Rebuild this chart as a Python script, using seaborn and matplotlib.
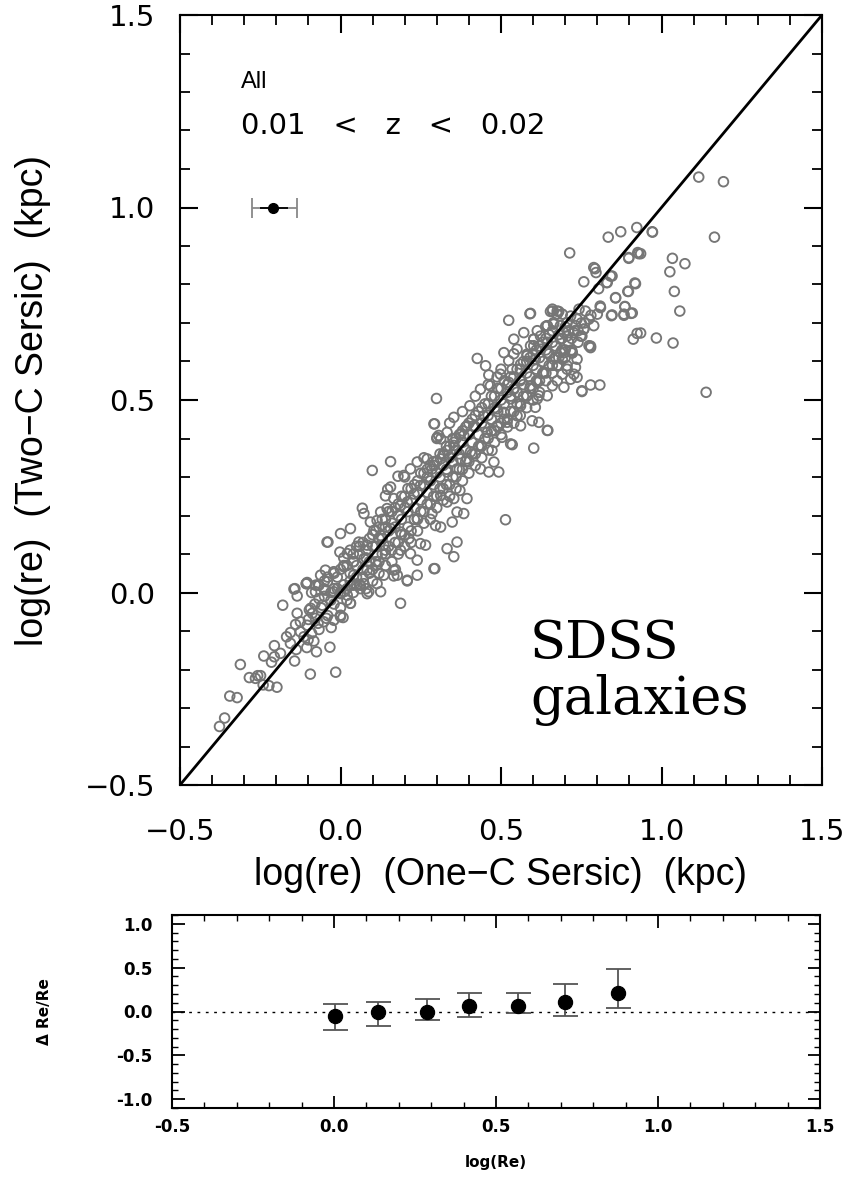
import numpy as np
import pandas as pd
import matplotlib
matplotlib.use("Agg")
import matplotlib.pyplot as plt
import seaborn as sns
from matplotlib.ticker import MultipleLocator

# ---------------- data: top panel (log re one-component vs two-component) ----------------
low_end_pts = [(-0.377, -0.348), (-0.361, -0.326), (-0.345, -0.269), (-0.322, -0.273), (-0.312, -0.187),
               (-0.284, -0.221), (-0.258, -0.216), (-0.249, -0.216), (-0.241, -0.240), (-0.223, -0.242),
               (-0.198, -0.246), (-0.239, -0.165), (-0.206, -0.138), (-0.206, -0.167), (-0.215, -0.181),
               (-0.143, -0.178), (-0.180, -0.033), (-0.142, 0.010), (-0.135, -0.009), (-0.107, 0.023),
               (-0.097, -0.045), (-0.094, -0.212), (-0.015, -0.207), (-0.033, -0.142), (-0.075, -0.154),
               (-0.105, -0.143), (-0.138, -0.148), (-0.168, -0.115), (-0.156, -0.104), (-0.140, -0.083),
               (-0.125, -0.102), (-0.114, -0.115), (-0.101, -0.123), (-0.083, -0.126), (-0.090, -0.106),
               (-0.125, -0.076), (-0.104, -0.085), (-0.078, -0.067), (-0.067, -0.096), (-0.052, -0.076),
               (-0.029, -0.091), (-0.044, -0.067), (-0.021, -0.072), (0.000, -0.063), (0.008, -0.065),
               (0.031, -0.028), (-0.067, -0.016), (-0.078, 0.002), (-0.067, 0.019), (-0.047, 0.006),
               (-0.041, 0.028), (-0.021, 0.010), (0.000, -0.003), (0.021, -0.007), (0.041, 0.019),
               (0.062, 0.010), (0.073, 0.023), (0.083, -0.003), (-0.057, -0.033), (-0.088, -0.054),
               (-0.156, -0.132), (-0.187, -0.158), (-0.265, -0.223), (-0.145, 0.009), (-0.106, 0.023),
               (-0.135, -0.054), (-0.093, -0.041), (0.000, -0.059), (0.187, -0.028), (-0.039, 0.131)]

mid_pts = [(0.293, 0.438), (0.301, 0.403), (0.156, 0.340), (0.099, 0.317), (0.179, 0.302), (0.156, 0.274),
           (0.147, 0.268), (0.140, 0.251), (0.068, 0.219), (0.073, 0.205), (0.031, 0.166), (0.000, 0.153),
           (-0.042, 0.131), (-0.002, 0.105), (0.021, 0.101), (-0.047, 0.058), (-0.104, 0.026), (-0.078, 0.019),
           (-0.052, 0.010), (0.010, 0.002), (0.062, 0.019), (0.088, 0.002), (0.125, 0.002), (0.166, 0.058),
           (0.177, 0.045), (0.208, 0.030), (0.187, 0.110), (0.218, 0.101), (0.239, 0.084), (0.265, 0.123),
           (0.291, 0.062), (0.213, 0.140), (0.187, 0.157), (0.296, 0.174), (0.312, 0.170), (0.348, 0.183),
           (0.363, 0.209), (0.384, 0.205), (0.372, 0.265), (0.394, 0.244), (0.285, 0.205), (0.239, 0.192),
           (0.114, 0.187), (0.104, 0.161), (0.125, 0.148), (0.057, 0.131), (0.083, 0.123), (0.140, 0.110),
           (0.041, 0.080), (0.010, 0.067), (-0.021, 0.054), (-0.062, 0.045), (0.114, 0.071), (0.135, 0.045),
           (0.083, 0.058), (0.208, 0.235), (0.229, 0.256), (0.249, 0.278), (0.270, 0.300), (0.285, 0.321),
           (0.312, 0.347), (0.332, 0.369), (0.353, 0.390), (0.374, 0.412), (0.394, 0.433), (0.197, 0.304),
           (0.218, 0.321), (0.239, 0.339), (0.270, 0.347), (0.312, 0.399), (0.332, 0.416), (0.166, 0.244),
           (0.187, 0.226), (0.145, 0.218), (0.125, 0.209), (0.093, 0.183), (0.156, 0.166), (0.135, 0.123),
           (0.114, 0.097), (0.073, 0.088), (0.041, 0.045), (0.031, 0.019), (-0.021, 0.002), (0.363, 0.131),
           (0.332, 0.114), (0.353, 0.093), (0.239, 0.045), (0.249, 0.127), (0.332, 0.235), (0.312, 0.252),
           (0.353, 0.244), (0.294, 0.062), (0.208, 0.032), (0.171, 0.060), (0.166, 0.043), (0.114, 0.023),
           (0.031, -0.028)]

upper_mid_pts = [(0.592, 0.725), (0.524, 0.707), (0.660, 0.731), (0.675, 0.723), (0.644, 0.693), (0.664, 0.697),
                 (0.685, 0.693), (0.706, 0.701), (0.737, 0.710), (0.758, 0.684), (0.774, 0.641), (0.540, 0.658),
                 (0.602, 0.658), (0.426, 0.608), (0.452, 0.589), (0.462, 0.565), (0.488, 0.560), (0.524, 0.602),
                 (0.535, 0.580), (0.561, 0.593), (0.581, 0.615), (0.592, 0.641), (0.607, 0.606), (0.664, 0.606),
                 (0.696, 0.623), (0.722, 0.623), (0.675, 0.589), (0.706, 0.589), (0.732, 0.585), (0.691, 0.567),
                 (0.717, 0.554), (0.737, 0.559), (0.675, 0.550), (0.660, 0.537), (0.696, 0.533), (0.752, 0.524),
                 (0.644, 0.511), (0.613, 0.503), (0.607, 0.481), (0.550, 0.459), (0.561, 0.433), (0.597, 0.446),
                 (0.618, 0.442), (0.644, 0.421), (0.602, 0.375), (0.530, 0.386), (0.503, 0.403), (0.472, 0.369),
                 (0.478, 0.339), (0.493, 0.313), (0.462, 0.313), (0.299, 0.504), (0.291, 0.438), (0.306, 0.408),
                 (0.353, 0.455), (0.403, 0.485), (0.436, 0.528), (0.467, 0.537), (0.498, 0.567), (0.524, 0.546),
                 (0.561, 0.554), (0.592, 0.537), (0.618, 0.511), (0.561, 0.485), (0.530, 0.503), (0.488, 0.477),
                 (0.446, 0.459), (0.415, 0.433), (0.384, 0.408), (0.353, 0.382), (0.322, 0.356), (0.291, 0.330),
                 (0.374, 0.347), (0.405, 0.365), (0.436, 0.382), (0.457, 0.416), (0.488, 0.433), (0.519, 0.442),
                 (0.509, 0.468), (0.540, 0.528), (0.581, 0.511), (0.613, 0.546), (0.634, 0.572), (0.623, 0.632),
                 (0.644, 0.650), (0.685, 0.658), (0.706, 0.666), (0.727, 0.675), (0.748, 0.666), (0.509, 0.623),
                 (0.550, 0.632), (0.571, 0.675), (0.613, 0.680), (0.394, 0.347), (0.436, 0.321), (0.363, 0.321),
                 (0.332, 0.313), (0.779, 0.539), (0.808, 0.539), (0.752, 0.522), (0.646, 0.421), (0.535, 0.384),
                 (0.514, 0.189)]

upper_pts = [(0.660, 0.736), (0.675, 0.731), (0.691, 0.723), (0.644, 0.693), (0.664, 0.701), (0.717, 0.718),
             (0.743, 0.736), (0.763, 0.731), (0.774, 0.710), (0.789, 0.693), (0.758, 0.684), (0.732, 0.693),
             (0.752, 0.666), (0.696, 0.675), (0.623, 0.666), (0.602, 0.658), (0.602, 0.641), (0.581, 0.619),
             (0.644, 0.623), (0.685, 0.623), (0.722, 0.622), (0.691, 0.606), (0.675, 0.589), (0.706, 0.580),
             (0.727, 0.567), (0.810, 0.740), (0.800, 0.723), (0.639, 0.691), (0.654, 0.730), (0.680, 0.730),
             (0.779, 0.636), (0.717, 0.627), (0.737, 0.606), (0.590, 0.724)]

high_pts = [(0.834, 0.923), (0.873, 0.937), (0.923, 0.948), (0.971, 0.937), (0.714, 0.882), (0.898, 0.870),
            (0.926, 0.883), (0.789, 0.844), (0.796, 0.831), (0.758, 0.807), (0.841, 0.822), (0.829, 0.805),
            (0.804, 0.789), (0.917, 0.804), (0.895, 0.782), (0.857, 0.765), (0.809, 0.744), (0.886, 0.743),
            (0.909, 0.726), (0.883, 0.720), (0.844, 0.719), (0.924, 0.673), (0.912, 0.658), (0.779, 0.640),
            (0.846, 0.721), (0.883, 0.723), (0.905, 0.725), (0.886, 0.742), (0.857, 0.766), (0.897, 0.782),
            (0.919, 0.802), (0.831, 0.805), (0.846, 0.822), (0.793, 0.841), (0.898, 0.868), (0.929, 0.880)]

outlier_pts = [(1.116, 1.079), (1.193, 1.067), (0.972, 0.936), (1.165, 0.923), (1.034, 0.868), (1.073, 0.854),
               (1.026, 0.833), (1.040, 0.782), (1.057, 0.731), (0.984, 0.661), (1.036, 0.648), (0.935, 0.674),
               (1.139, 0.520), (0.935, 0.880)]

core_pts = [(-0.06, -0.04), (-0.05, -0.01), (-0.07, 0.02), (-0.04, -0.06), (-0.03, 0.00), (-0.04, 0.04),
            (-0.02, -0.03), (-0.01, 0.01), (-0.02, 0.05), (0.00, -0.04), (0.01, 0.02), (0.00, 0.06),
            (0.01, 0.09), (0.02, -0.02), (0.03, 0.03), (0.02, 0.07), (0.03, 0.11), (0.04, 0.00), (0.05, 0.04),
            (0.04, 0.08), (0.05, 0.12), (0.06, 0.02), (0.07, 0.06), (0.06, 0.10), (0.07, 0.13), (0.08, 0.01),
            (0.09, 0.05), (0.08, 0.09), (0.09, 0.14), (0.10, 0.03), (0.11, 0.08), (0.10, 0.12), (0.11, 0.16),
            (0.12, 0.05), (0.13, 0.10), (0.12, 0.14), (0.13, 0.19), (0.14, 0.07), (0.15, 0.12), (0.14, 0.17),
            (0.15, 0.21), (0.16, 0.08), (0.17, 0.13), (0.16, 0.18), (0.17, 0.22), (0.18, 0.10), (0.19, 0.15),
            (0.18, 0.20), (0.19, 0.25), (0.20, 0.12), (0.21, 0.17), (0.20, 0.22), (0.21, 0.27), (0.20, 0.30),
            (0.22, 0.13), (0.23, 0.19), (0.22, 0.24), (0.23, 0.28), (0.24, 0.16), (0.25, 0.21), (0.24, 0.26),
            (0.25, 0.31), (0.26, 0.18), (0.27, 0.23), (0.26, 0.28), (0.27, 0.32), (0.26, 0.35), (0.28, 0.19),
            (0.29, 0.25), (0.28, 0.29), (0.29, 0.34), (0.30, 0.22), (0.31, 0.27), (0.30, 0.31), (0.31, 0.36),
            (0.30, 0.40), (0.32, 0.24), (0.33, 0.28), (0.32, 0.33), (0.33, 0.38), (0.34, 0.25), (0.35, 0.30),
            (0.34, 0.35), (0.35, 0.40), (0.34, 0.44), (0.36, 0.27), (0.37, 0.32), (0.36, 0.37), (0.37, 0.41),
            (0.38, 0.29), (0.39, 0.34), (0.38, 0.39), (0.39, 0.43), (0.38, 0.47), (0.40, 0.31), (0.41, 0.36),
            (0.40, 0.41), (0.41, 0.45), (0.42, 0.33), (0.43, 0.38), (0.42, 0.43), (0.43, 0.47), (0.42, 0.51),
            (0.44, 0.35), (0.45, 0.40), (0.44, 0.44), (0.45, 0.49), (0.46, 0.37), (0.47, 0.42), (0.46, 0.46),
            (0.47, 0.51), (0.46, 0.54), (0.48, 0.39), (0.49, 0.43), (0.48, 0.48), (0.49, 0.53), (0.50, 0.41),
            (0.51, 0.45), (0.50, 0.50), (0.51, 0.55), (0.50, 0.58), (0.52, 0.43), (0.53, 0.47), (0.52, 0.52),
            (0.53, 0.56), (0.54, 0.44), (0.55, 0.49), (0.54, 0.53), (0.55, 0.58), (0.54, 0.62), (0.56, 0.46),
            (0.57, 0.51), (0.56, 0.55), (0.57, 0.60), (0.58, 0.48), (0.59, 0.53), (0.58, 0.57), (0.59, 0.61),
            (0.60, 0.50), (0.61, 0.55), (0.60, 0.59), (0.61, 0.63), (0.62, 0.52), (0.63, 0.57), (0.62, 0.61),
            (0.63, 0.65), (0.64, 0.55), (0.65, 0.59), (0.64, 0.63), (0.65, 0.67), (0.66, 0.57), (0.67, 0.61),
            (0.66, 0.65), (0.68, 0.59), (0.69, 0.63), (0.68, 0.67), (0.70, 0.61), (0.71, 0.65), (0.70, 0.69),
            (0.72, 0.63), (0.73, 0.68), (0.74, 0.65), (0.75, 0.70)]

core_fill_pts = [(-0.10, -0.07), (-0.08, -0.03), (-0.09, 0.00), (-0.07, -0.08), (-0.05, 0.03), (-0.03, -0.02),
                 (-0.01, 0.04), (0.00, 0.00), (0.01, 0.07), (0.02, 0.01), (0.03, 0.05), (0.04, 0.10),
                 (0.05, 0.02), (0.05, 0.07), (0.06, 0.12), (0.07, 0.04), (0.08, 0.11), (0.09, 0.08),
                 (0.10, 0.15), (0.10, 0.06), (0.11, 0.12), (0.12, 0.17), (0.12, 0.08), (0.13, 0.14),
                 (0.14, 0.10), (0.14, 0.19), (0.15, 0.16), (0.16, 0.11), (0.16, 0.21), (0.17, 0.17),
                 (0.18, 0.13), (0.18, 0.23), (0.19, 0.19), (0.20, 0.15), (0.20, 0.25), (0.21, 0.21),
                 (0.22, 0.16), (0.22, 0.27), (0.23, 0.22), (0.24, 0.19), (0.24, 0.29), (0.25, 0.24),
                 (0.26, 0.21), (0.26, 0.31), (0.27, 0.26), (0.28, 0.23), (0.28, 0.33), (0.29, 0.28),
                 (0.30, 0.25), (0.30, 0.34), (0.31, 0.30), (0.32, 0.27), (0.32, 0.36), (0.33, 0.32),
                 (0.34, 0.28), (0.34, 0.38), (0.35, 0.34), (0.36, 0.30), (0.36, 0.40), (0.37, 0.36),
                 (0.38, 0.32), (0.38, 0.42), (0.39, 0.37), (0.40, 0.34), (0.40, 0.44), (0.41, 0.39),
                 (0.42, 0.36), (0.42, 0.46), (0.43, 0.41), (0.44, 0.38), (0.44, 0.48), (0.45, 0.43),
                 (0.46, 0.40), (0.46, 0.49), (0.47, 0.45), (0.48, 0.42), (0.48, 0.51), (0.49, 0.47),
                 (0.50, 0.44), (0.50, 0.53), (0.51, 0.49), (0.52, 0.45), (0.52, 0.54), (0.53, 0.51),
                 (0.54, 0.47), (0.54, 0.56), (0.55, 0.52), (0.56, 0.49), (0.56, 0.58), (0.57, 0.54),
                 (0.58, 0.51), (0.58, 0.60), (0.59, 0.56), (0.60, 0.53), (0.60, 0.62), (0.61, 0.58),
                 (0.62, 0.55), (0.62, 0.64), (0.63, 0.60), (0.64, 0.57), (0.64, 0.66), (0.65, 0.62),
                 (0.66, 0.59), (0.66, 0.68), (0.67, 0.64), (0.68, 0.61), (0.69, 0.66), (0.70, 0.63),
                 (0.71, 0.68), (0.72, 0.66), (0.74, 0.68), (0.76, 0.70), (0.78, 0.72)]

# sample error bar shown in the top-left corner
sample_x, sample_y = -0.21, 1.0
sample_xerr_lo, sample_xerr_hi = 0.067, 0.076

# ---------------- data: bottom panel (Delta Re/Re vs log Re) ----------------
bin_logre = [0.002, 0.137, 0.286, 0.416, 0.568, 0.714, 0.877]
bin_delta = [-0.046, 0.0, 0.0, 0.057, 0.061, 0.107, 0.214]
bin_err_hi = [0.084, 0.103, 0.141, 0.206, 0.210, 0.313, 0.480]
bin_err_lo = [-0.210, -0.168, -0.095, -0.065, -0.015, -0.046, 0.038]

top_xticks = [-0.5, 0.0, 0.5, 1.0, 1.5]
top_yticks = [-0.5, 0.0, 0.5, 1.0, 1.5]
bot_yticks = [-1.0, -0.5, 0.0, 0.5, 1.0]

# ---------------- figure ----------------
sns.set_theme(style="white")
plt.rcParams["font.family"] = ["DejaVu Sans"]
plt.rcParams["axes.linewidth"] = 1.5
for key in ["text.color", "axes.labelcolor", "xtick.color", "ytick.color", "axes.edgecolor"]:
    plt.rcParams[key] = "black"

W, H = 854, 1181
fig = plt.figure(figsize=(W / 100, H / 100), dpi=100)
fig.patch.set_facecolor("white")

def frac(x0, y0, x1, y1):
    return [x0 / W, 1 - y1 / H, (x1 - x0) / W, (y1 - y0) / H]

ax = fig.add_axes(frac(180, 15, 822, 785))
all_pts = (core_pts + core_fill_pts + low_end_pts + mid_pts + upper_mid_pts + upper_pts
           + high_pts + outlier_pts)
df = pd.DataFrame(all_pts, columns=["one_c", "two_c"])

sns.scatterplot(data=df, x="one_c", y="two_c", ax=ax, s=48, marker="o", legend=False, zorder=2)
for coll in ax.collections:
    coll.set_facecolor("none")
    coll.set_edgecolor("#767676")
    coll.set_linewidth(1.35)

sns.lineplot(x=[-0.5, 1.5], y=[-0.5, 1.5], ax=ax, color="black", lw=2.0, zorder=3)

ax.errorbar([sample_x], [sample_y], xerr=[[sample_xerr_lo], [sample_xerr_hi]], fmt="none",
            ecolor="#888888", elinewidth=1.3, capsize=7, capthick=1.3, zorder=3)
ax.errorbar([sample_x], [sample_y], xerr=[[sample_xerr_lo * 0.6], [sample_xerr_hi * 0.6]], fmt="o",
            color="black", ms=7, elinewidth=1.3, capsize=0, zorder=4)

ax.set_xlim(-0.5, 1.5)
ax.set_ylim(-0.5, 1.5)
ax.set_xticks(top_xticks)
ax.set_yticks(top_yticks)
ax.set_xticklabels(["−0.5", "0.0", "0.5", "1.0", "1.5"])
ax.set_yticklabels(["−0.5", "0.0", "0.5", "1.0", "1.5"])
ax.xaxis.set_minor_locator(MultipleLocator(0.1))
ax.yaxis.set_minor_locator(MultipleLocator(0.1))
ax.tick_params(which="both", direction="in", top=True, right=True, bottom=True, left=True, color="black")
ax.tick_params(which="major", length=13, width=1.5, labelsize=21)
ax.tick_params(axis="x", which="major", pad=24)
ax.tick_params(axis="y", which="major", pad=18)
ax.tick_params(which="minor", length=7, width=1.3)
for s in ax.spines.values():
    s.set_color("black")
    s.set_linewidth(1.5)
ax.set_xlabel("log(re)  (One−C Sersic)  (kpc)", fontsize=27, family="Liberation Sans", labelpad=8)
ax.set_ylabel("log(re)  (Two−C Sersic)  (kpc)", fontsize=27, family="Liberation Sans", labelpad=24)

ax.text(0.095, 0.905, "All", transform=ax.transAxes, fontsize=17, family="Liberation Sans")
ax.text(0.095, 0.845, "0.01   <   z   <   0.02", transform=ax.transAxes, fontsize=21)
ax.text(0.545, 0.077, "SDSS\ngalaxies", transform=ax.transAxes, fontsize=38, family="DejaVu Serif",
        linespacing=1.12, va="bottom")

# bottom panel
bx = fig.add_axes(frac(172, 915, 820, 1108))
bdf = pd.DataFrame({"logre": bin_logre, "delta": bin_delta})
yerr = [np.array(bin_delta) - np.array(bin_err_lo), np.array(bin_err_hi) - np.array(bin_delta)]
bx.errorbar(bin_logre, bin_delta, yerr=yerr, fmt="none", ecolor="#555555", elinewidth=1.3,
            capsize=9, capthick=1.3, zorder=2)
sns.scatterplot(data=bdf, x="logre", y="delta", ax=bx, s=105, color="black", edgecolor="black",
                legend=False, zorder=3)
bx.axhline(0, color="black", ls=(0, (2, 4)), lw=1.0, zorder=1)
bx.set_xlim(-0.5, 1.5)
bx.set_ylim(-1.1, 1.1)
bx.set_xticks(top_xticks)
bx.set_yticks(bot_yticks)
bx.set_xticklabels(["-0.5", "0.0", "0.5", "1.0", "1.5"], fontweight="bold")
bx.set_yticklabels(["-1.0", "-0.5", "0.0", "0.5", "1.0"], fontweight="bold")
bx.xaxis.set_minor_locator(MultipleLocator(0.1))
bx.yaxis.set_minor_locator(MultipleLocator(0.1))
bx.tick_params(which="both", direction="in", top=True, right=True, bottom=True, left=True, color="black")
bx.tick_params(which="major", length=9, width=1.3, labelsize=12)
bx.tick_params(axis="x", which="major", pad=7)
bx.tick_params(axis="y", which="major", pad=14)
bx.tick_params(which="minor", length=4.5, width=1.0)
for s in bx.spines.values():
    s.set_color("black")
    s.set_linewidth(1.5)
bx.set_xlabel("log(Re)", fontsize=11, fontweight="bold", labelpad=14)
bx.set_ylabel("Δ Re/Re", fontsize=11, fontweight="bold", labelpad=46)

fig.savefig("out.png", dpi=100, facecolor="white")
